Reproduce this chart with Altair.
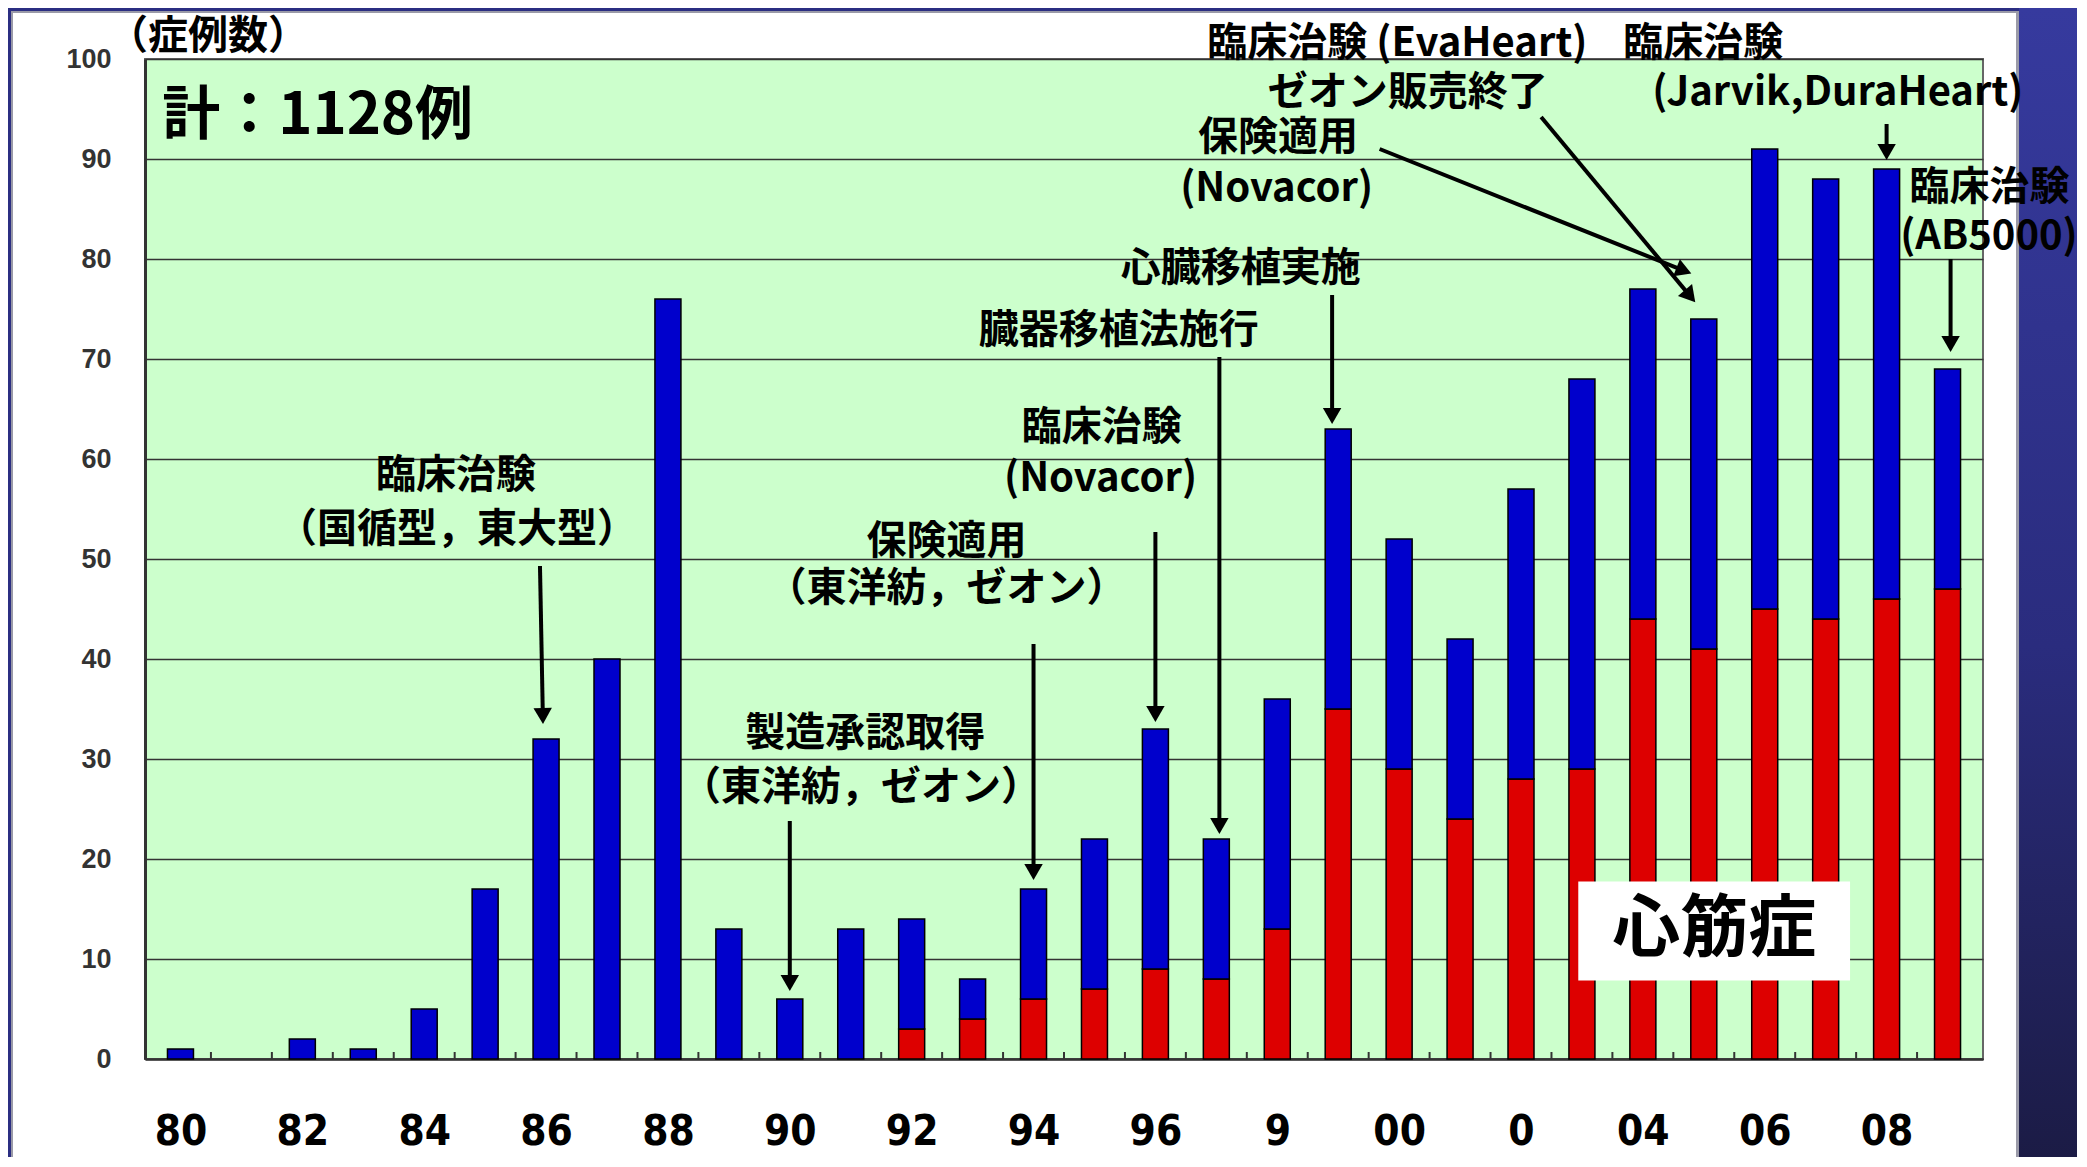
import altair as alt
import pandas as pd
import numpy as np

# ---------------- data ----------------
years = list(range(1980, 2010))
totals = [1, 0, 2, 1, 5, 17, 32, 40, 76, 13, 6, 13, 14, 8, 17, 22, 33, 22, 36, 63,
          52, 42, 57, 68, 77, 74, 91, 88, 89, 69]
cardiomyopathy = [0, 0, 0, 0, 0, 0, 0, 0, 0, 0, 0, 0, 3, 4, 6, 7, 9, 8, 13, 35,
                  29, 24, 28, 29, 44, 41, 45, 44, 46, 47]

y_ticks = list(range(0, 101, 10))
x_label_years = list(range(1980, 2010, 2))
x_label_texts = ["80", "82", "84", "86", "88", "90", "92", "94", "96", "9",
                 "00", "0", "04", "06", "08"]

ann_text = ["（症例数）", "計：1128例", "臨床治験", "（国循型，東大型）",
            "製造承認取得", "（東洋紡，ゼオン）", "保険適用", "（東洋紡，ゼオン）",
            "臨床治験", "(Novacor)", "臓器移植法施行", "心臓移植実施",
            "保険適用", "(Novacor)", "臨床治験 (EvaHeart)", "ゼオン販売終了",
            "臨床治験", "(Jarvik,DuraHeart)", "臨床治験", "(AB5000)", "心筋症"]
ann_x = [1980.45, 1979.70, 1984.52, 1984.54, 1991.24, 1991.17, 1992.57, 1992.57,
         1995.12, 1995.10, 1995.40, 1997.40, 1998.01, 1997.99, 1999.97, 2000.14,
         2003.68, 2007.20, 2009.69, 2009.68, 2005.17]
ann_y = [102.2, 94.2, 58.3, 52.95, 32.46, 27.14, 51.75, 46.97, 63.06, 58.0, 72.77,
         79.02, 92.06, 87.0, 101.5, 96.58, 101.5, 96.58, 87.14, 82.2, 12.79]
ann_align = ["center", "left"] + ["center"] * 14 + ["left"] + ["center"] * 4
ann_size = [40, 58] + [40] * 12 + [40] + [40] * 5 + [68]

arrow_x0 = [1985.90, 1990.0, 1994.0, 1996.0, 1997.05, 1998.9, 1999.68, 2002.33, 2008.0, 2009.05]
arrow_y0 = [49.3, 23.8, 41.5, 52.7, 70.2, 76.4, 91.0, 94.2, 93.5, 80.0]
arrow_x1 = [1985.95, 1990.0, 1994.0, 1996.0, 1997.05, 1998.9, 2004.81, 2004.87, 2008.0, 2009.05]
arrow_y1 = [33.4, 6.7, 17.8, 33.6, 22.4, 63.4, 78.5, 75.6, 89.8, 70.6]

box_x = [2002.94]
box_x2 = [2007.40]
box_y = [7.85]
box_y2 = [17.74]

# ---------------- layout constants ----------------
W, H = 1838, 1000
X_DOMAIN = [1979.5, 2009.5]
PX_PER_YEAR = W / (X_DOMAIN[1] - X_DOMAIN[0])
PX_PER_UNIT = H / 100.0
CJK = "Noto Sans CJK JP"
NARROW = "Liberation Sans Narrow, DejaVu Sans Condensed, Roboto Condensed, Roboto, Noto Sans, sans-serif"

xscale = alt.Scale(domain=X_DOMAIN, nice=False, zero=False)
yscale = alt.Scale(domain=[0, 100], nice=False)
label_arr = "[" + ",".join("'%s'" % t for t in x_label_texts) + "]"
xaxis = alt.Axis(values=x_label_years, labelExpr=label_arr + "[round((datum.value-1980)/2)]",
                 title=None, grid=False, ticks=False, labelFontSize=42,
                 labelFont=NARROW, labelFontWeight="bold",
                 labelColor="black", labelPadding=52, domainColor="#333",
                 domainWidth=2.5, labelFlush=False, labelOverlap=False)
yaxis = alt.Axis(values=y_ticks, title=None, ticks=False, labelFontSize=27,
                 labelFont="Liberation Sans", labelFontWeight="bold", labelColor="#333",
                 labelPadding=34, domainColor="#333", domainWidth=3, grid=True,
                 gridColor="#333", gridWidth=1.3)


def X(field, **kw):
    return alt.X(field, type="quantitative", scale=xscale, axis=xaxis, **kw)


def Y(field, **kw):
    return alt.Y(field, type="quantitative", scale=yscale, axis=yaxis, **kw)


bars = pd.DataFrame({"year": years, "total": totals, "red": cardiomyopathy})
bars["zero"] = 0
red_df = bars[bars["red"] > 0]
blue_df = bars[bars["total"] > bars["red"]]

one = pd.DataFrame({"a": [0]})

DARK = "#2B2E82"
GRAY = "#9A9AA8"
grad = alt.LinearGradient(gradient="linear",
                          stops=[alt.GradientStop(color="#363A9E", offset=0),
                                 alt.GradientStop(color="#2A2C7E", offset=0.55),
                                 alt.GradientStop(color="#1B1B44", offset=1)],
                          x1=0, x2=0, y1=0, y2=1)


def frame_rect(x, x2, y, y2, color):
    return alt.Chart(one).mark_rect(color=color).encode(
        x=alt.value(x), x2=alt.value(x2), y=alt.value(y), y2=alt.value(y2))


frames = [
    frame_rect(1874, 1950, -51, 1110, grad),
    frame_rect(1871, 1874, -48, 1110, GRAY),
    frame_rect(-137, 1874, -51, -48, DARK),
    frame_rect(-134, 1871, -48, -46, GRAY),
    frame_rect(-137, -134, -51, 1110, DARK),
    frame_rect(-134, -132, -46, 1110, GRAY),
]

red_bars = alt.Chart(red_df).mark_bar(size=26, color="#DD0000", stroke="black",
                                      strokeWidth=1.5).encode(
    x=X("year"), y=Y("zero"), y2="red")
blue_bars = alt.Chart(blue_df).mark_bar(size=26, color="#0000CC", stroke="black",
                                        strokeWidth=1.5).encode(
    x=X("year"), y=Y("red"), y2="total")

# inward tick marks at the boundaries between years
ticks_df = pd.DataFrame({"b": [y + 0.5 for y in years[:-1]]})
ticks_df["y0"] = 0
ticks_df["y1"] = 0.7
inner_ticks = alt.Chart(ticks_df).mark_rule(color="#333", strokeWidth=2).encode(
    x=X("b"), y=Y("y0"), y2="y1")

box = alt.Chart(pd.DataFrame({"x": box_x, "x2": box_x2, "y": box_y, "y2": box_y2})).mark_rect(
    color="white").encode(x=X("x"), x2="x2", y=Y("y"), y2="y2")

ann = pd.DataFrame({"text": ann_text, "x": ann_x, "y": ann_y,
                    "align": ann_align, "size": ann_size})
text_layers = []
for al in ["center", "left"]:
    sub = ann[ann["align"] == al]
    text_layers.append(
        alt.Chart(sub).mark_text(align=al, baseline="middle", font=CJK,
                                 fontWeight="bold", color="black").encode(
            x=X("x"), y=Y("y"), text="text:N",
            size=alt.Size("size:Q", scale=None, legend=None)))

# arrows: shaft + triangle head
ar = pd.DataFrame({"x0": arrow_x0, "y0": arrow_y0, "x1": arrow_x1, "y1": arrow_y1})
dxp = (ar["x1"] - ar["x0"]) * PX_PER_YEAR
dyp = -(ar["y1"] - ar["y0"]) * PX_PER_UNIT  # screen y grows downward
L = np.hypot(dxp, dyp)
ux, uy = dxp / L, dyp / L
back = 9.0
ar["hx"] = ar["x1"] - ux * back / PX_PER_YEAR
ar["hy"] = ar["y1"] + uy * back / PX_PER_UNIT
ar["ang"] = (np.degrees(np.arctan2(dxp, -dyp)) + 360) % 360

shafts = alt.Chart(ar).mark_rule(color="black", strokeWidth=4).encode(
    x=X("x0"), y=Y("y0"), x2="hx", y2="hy")
heads = alt.Chart(ar).mark_point(shape="triangle-up", filled=True, color="black",
                                 size=340, opacity=1).encode(
    x=X("hx"), y=Y("hy"), angle=alt.Angle("ang:Q", scale=None))

chart = alt.layer(*frames, red_bars, blue_bars, inner_ticks, box, *text_layers,
                  shafts, heads).properties(
    width=W, height=H,
    autosize=alt.AutoSizeParams(type="none"),
    padding={"left": 137, "top": 51, "right": 94, "bottom": 98},
    background="white",
).configure_view(fill="#CCFFCC", stroke="#666", strokeWidth=2)

chart.save("out.html", embed_options={"renderer": "svg", "actions": False})
